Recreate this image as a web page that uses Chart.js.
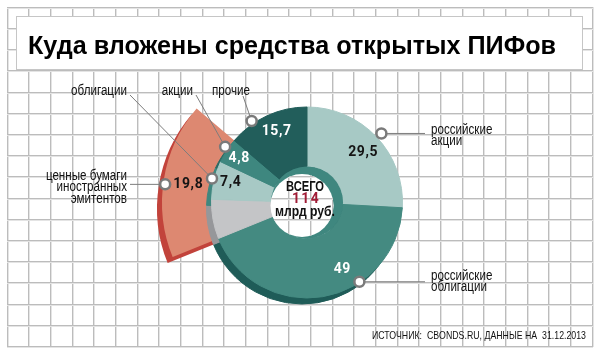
<!DOCTYPE html>
<html><head><meta charset="utf-8">
<script src="https://cdn.jsdelivr.net/npm/chart.js@4/dist/chart.umd.min.js"></script>
<style>html,body{margin:0;padding:0;background:#fff;}canvas{display:block;}</style>
</head><body>
<canvas id="c" width="603" height="356"></canvas>
<script>
// ---------- data ----------
const titleText = 'Куда вложены средства открытых ПИФов';
const sourceText = 'ИСТОЧНИК:  CBONDS.RU, ДАННЫЕ НА  31.12.2013';
const categories = ['российские акции', 'российские облигации', 'ценные бумаги иностранных эмитентов', 'прочие'];
const values = [29.5, 49, 19.8, 15.7];            // млрд руб.
const foreignParts = ['прочие иностранные', 'облигации', 'акции'];
const foreignValues = [7.6, 7.4, 4.8];           // parts of 19,8
const totalLines = ['ВСЕГО', '114', 'млрд руб.'];

// ---------- style ----------
const SANS = '"Liberation Sans", Arial, sans-serif';
const outerColors = ['rgba(0,0,0,0)', 'rgba(0,0,0,0)', '#dd8871', 'rgba(0,0,0,0)'];
const outerRims   = [null, null, '#c2433b', null];
const innerColors = ['#a7c9c5', '#448a81', '#c4c5c7', '#a7c9c5', '#3e877f', '#225e5b'];
const innerRims   = ['#2b6d67', '#1f5c58', '#96979a', '#3f877f', '#2a6a64', '#1a4b48'];
const RIM_DX = -5, RIM_DY = 6;
const LABEL_SX = 0.83;
const fmt = v => String(v).replace('.', ',');

const innerData = [values[0], values[1], foreignValues[0], foreignValues[1], foreignValues[2], values[3]];
const innerLabels = [categories[0], categories[1], foreignParts[0], foreignParts[1], foreignParts[2], categories[3]];

// value labels: dataset, index, position within segment (0..1), radius, colour
const valueLabels = [
  {ds: 1, i: 0, v: values[0], t: 0.52, r: 75, c: '#151515'},
  {ds: 1, i: 1, v: values[1], t: 0.382, r: 76, c: '#ffffff'},
  {ds: 1, i: 5, v: values[3], t: 0.532, r: 77, c: '#ffffff'},
  {ds: 1, i: 4, v: foreignValues[2], t: 0.52, r: 81, c: '#ffffff'},
  {ds: 1, i: 3, v: foreignValues[1], t: 0.56, r: 79, c: '#151515'},
  {ds: 0, i: 2, v: values[2], t: 0.488, r: 120, c: '#151515'}
];
// callouts: dot on segment, leader end (relative to centre), text lines
const callouts = [
  {ds: 1, i: 0, t: 0.506, r: 101.5, end: [118, null], text: ['российские', 'акции'], tx: 124, ty: [-72.5, -61], align: 'left'},
  {ds: 1, i: 1, t: 0.345, r: 95, end: [118, null], text: ['российские', 'облигации'], tx: 124, ty: [73.5, 85], align: 'left'},
  {ds: 1, i: 5, t: 0.31, r: 98.5, end: [-64, -106.5], text: ['прочие'], tx: -95, ty: [-111.5], align: 'left'},
  {ds: 1, i: 4, t: 0.59, r: 99, end: [-111, -107.5], text: ['акции'], tx: -114, ty: [-111.5], align: 'right'},
  {ds: 1, i: 3, t: 0.526, r: 98, end: [-177, -107.5], text: ['облигации'], tx: -180, ty: [-111.5], align: 'right'},
  {ds: 0, i: 2, t: 0.47, r: 143, end: [-177, null], text: ['ценные бумаги', 'иностранных', 'эмитентов'], tx: -180, ty: [-26.5, -15, -3.5], align: 'right'}
];

function drawGrid(ctx) {
  const x0 = 6.7, y0 = 6.7, cw = 585 / 27, rh = 339.3 / 16;
  ctx.save();
  for (let k = 0; k <= 27; k++) {
    const x = Math.round(x0 + k * cw);
    ctx.fillStyle = '#e4e4e4'; ctx.fillRect(x + 1, 7, 1, 340);
    ctx.fillStyle = '#bcbcbc'; ctx.fillRect(x, 7, 1, 340);
  }
  for (let k = 0; k <= 16; k++) {
    const y = Math.round(y0 + k * rh);
    ctx.fillStyle = '#e4e4e4'; ctx.fillRect(7, y + 1, 586, 1);
    ctx.fillStyle = '#bcbcbc'; ctx.fillRect(7, y, 586, 1);
  }
  ctx.restore();
}
function segPoint(el, t, r) {
  const a = el.startAngle + (el.endAngle - el.startAngle) * t;
  return [el.x + r * Math.cos(a), el.y + r * Math.sin(a)];
}
// text drawn with horizontal condensing (sx) or fitted to a width (fitW)
function narrowText(ctx, s, x, y, align, sx, fitW) {
  ctx.save();
  ctx.textAlign = 'left';
  const w0 = ctx.measureText(s).width;
  const k = fitW ? fitW / w0 : sx;
  const w = w0 * k;
  const left = align === 'right' ? x - w : align === 'center' ? x - w / 2 : x;
  ctx.translate(left, y); ctx.scale(k, 1);
  ctx.fillText(s, 0, 0);
  ctx.restore();
}

const piePlugin = {
  id: 'pif',
  beforeDraw(chart) {
    const ctx = chart.ctx;
    ctx.save();
    ctx.fillStyle = '#fff'; ctx.fillRect(0, 0, 603, 356);
    drawGrid(ctx);
    // title box
    ctx.fillStyle = '#fff'; ctx.fillRect(17, 17, 566, 53);
    ctx.strokeStyle = '#c6c6c6'; ctx.lineWidth = 1; ctx.strokeRect(16.5, 16.5, 566, 53);
    ctx.fillStyle = '#000';
    ctx.font = 'bold 26px ' + SANS;
    ctx.textBaseline = 'alphabetic';
    narrowText(ctx, titleText, 28, 53.5, 'left', 1, 528);
    ctx.restore();
  },
  beforeDatasetsDraw(chart) {
    const ctx = chart.ctx;
    [[0, outerRims], [1, innerRims]].forEach(([di, rims]) => {
      const meta = chart.getDatasetMeta(di);
      ctx.save(); ctx.translate(RIM_DX, RIM_DY);
      meta.data.forEach((el, i) => {
        if (!rims[i]) return;
        const o = el.options;
        el.options = Object.assign({}, o, {backgroundColor: rims[i], borderColor: rims[i]});
        el.draw(ctx);
        el.options = o;
      });
      ctx.restore();
      meta.data.forEach((el, i) => { if (di === 1 || outerRims[i]) el.draw(ctx); });
    });
    // inner wall and hole
    const el0 = chart.getDatasetMeta(1).data[0];
    const cx = el0.x, cy = el0.y;
    ctx.save();
    ctx.fillStyle = '#3f877f';
    ctx.beginPath(); ctx.arc(cx, cy, el0.innerRadius, 0, Math.PI * 2); ctx.fill();
    ctx.fillStyle = '#fff';
    ctx.beginPath(); ctx.arc(cx - 5, cy + 3, 31.5, 0, Math.PI * 2); ctx.fill();
    ctx.clip(); drawGrid(ctx);
    ctx.restore();
    return false;
  },
  afterDraw(chart) {
    const ctx = chart.ctx;
    const el0 = chart.getDatasetMeta(1).data[0];
    const cx = el0.x, cy = el0.y;
    ctx.save();
    // centre text
    ctx.textBaseline = 'middle';
    ctx.fillStyle = '#111'; ctx.font = 'bold 14px ' + SANS;
    narrowText(ctx, totalLines[0], cx - 2, cy - 15.5, 'center', 1, 38);
    ctx.fillStyle = '#a01c36'; ctx.font = 'bold 15px Roboto, sans-serif'; ctx.letterSpacing = '1.5px';
    narrowText(ctx, totalLines[1], cx - 1, cy - 3, 'center', 1, 28);
    ctx.letterSpacing = '0px';
    ctx.fillStyle = '#111'; ctx.font = 'bold 14px ' + SANS;
    narrowText(ctx, totalLines[2], cx - 2, cy + 10, 'center', 1, 60);
    // value labels
    ctx.font = 'bold 14px Roboto, sans-serif'; ctx.letterSpacing = '0.6px';
    ctx.textAlign = 'center';
    valueLabels.forEach(l => {
      const el = chart.getDatasetMeta(l.ds).data[l.i];
      const [x, y] = segPoint(el, l.t, l.r);
      ctx.fillStyle = l.c; ctx.fillText(fmt(l.v), x, y);
    });
    ctx.letterSpacing = '0px';
    // callouts
    callouts.forEach(c => {
      const el = chart.getDatasetMeta(c.ds).data[c.i];
      const [px, py] = segPoint(el, c.t, c.r);
      const ex = cx + c.end[0], ey = c.end[1] === null ? py : cy + c.end[1];
      ctx.strokeStyle = '#7d7d7d'; ctx.lineWidth = 1;
      ctx.beginPath(); ctx.moveTo(px, py); ctx.lineTo(ex, ey); ctx.stroke();
      ctx.fillStyle = '#111'; ctx.font = '14px ' + SANS;
      ctx.textBaseline = 'middle';
      c.text.forEach((s, k) => narrowText(ctx, s, cx + c.tx, cy + c.ty[k], c.align, LABEL_SX));
    });
    callouts.forEach(c => {
      const el = chart.getDatasetMeta(c.ds).data[c.i];
      const [px, py] = segPoint(el, c.t, c.r);
      ctx.fillStyle = '#fff'; ctx.strokeStyle = '#7a7a7a'; ctx.lineWidth = 2.5;
      ctx.beginPath(); ctx.arc(px, py, 5, 0, Math.PI * 2); ctx.fill(); ctx.stroke();
    });
    // source
    ctx.fillStyle = '#111'; ctx.font = '11px ' + SANS;
    ctx.textBaseline = 'alphabetic';
    narrowText(ctx, sourceText, 586, 338.5, 'right', 1, 214);
    ctx.restore();
  }
};

new Chart(document.getElementById('c'), {
  type: 'doughnut',
  data: {
    labels: innerLabels,
    datasets: [
      {label: 'outer', data: values, backgroundColor: outerColors, borderColor: outerColors, borderWidth: 0, weight: 49.5},
      {label: 'inner', data: innerData, backgroundColor: innerColors, borderColor: innerColors, borderWidth: 1, weight: 59.5}
    ]
  },
  options: {
    responsive: false, animation: false, events: [],
    radius: 145, cutout: '24.83%',
    layout: {padding: {left: 11, top: 49, right: 0, bottom: 0}},
    plugins: {legend: {display: false}, tooltip: {enabled: false}}
  },
  plugins: [piePlugin]
});
</script>
</body></html>
